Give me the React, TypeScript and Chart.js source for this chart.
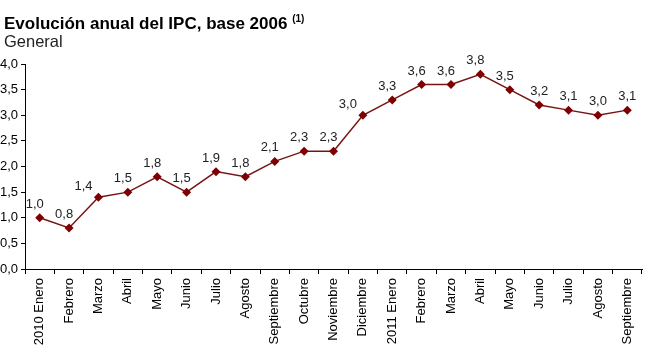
import React, { useEffect, useRef } from "react";
import { Chart, registerables } from "chart.js";

Chart.register(...registerables);

const categories: string[] = [
  "2010 Enero", "Febrero", "Marzo", "Abril", "Mayo", "Junio", "Julio", "Agosto",
  "Septiembre", "Octubre", "Noviembre", "Diciembre", "2011 Enero", "Febrero",
  "Marzo", "Abril", "Mayo", "Junio", "Julio", "Agosto", "Septiembre",
];
const ipcValues: number[] = [
  1.0, 0.8, 1.4, 1.5, 1.8, 1.5, 1.9, 1.8, 2.1, 2.3, 2.3, 3.0, 3.3, 3.6, 3.6, 3.8,
  3.5, 3.2, 3.1, 3.0, 3.1,
];
const yMin = 0;
const yMax = 4;
const yStep = 0.5;

const FONT = "'Liberation Sans', Arial, sans-serif";
const fmt = (v: number) => v.toFixed(1).replace(".", ",");

const labelPlugin = {
  id: "pointLabels",
  afterDatasetsDraw(chart: any) {
    const ctx = chart.ctx;
    const meta = chart.getDatasetMeta(0);
    ctx.save();
    ctx.font = `13px ${FONT}`;
    ctx.fillStyle = "#222";
    ctx.textAlign = "center";
    ctx.textBaseline = "alphabetic";
    meta.data.forEach((pt: any, i: number) => {
      const rise = i > 0 ? ipcValues[i] - ipcValues[i - 1] : 0;
      const steep = rise >= 0.4;
      const dx = steep ? -15 : i >= 17 ? 0 : -5;
      const dy = steep ? -7 : -10;
      ctx.fillText(fmt(ipcValues[i]), pt.x + dx, pt.y + dy);
    });
    ctx.restore();
  },
};

export default function App() {
  const ref = useRef<HTMLCanvasElement>(null);
  useEffect(() => {
    if (!ref.current) return;
    const chart = new Chart(ref.current, {
      type: "line",
      data: {
        labels: categories,
        datasets: [
          {
            data: ipcValues,
            borderColor: "#7a1414",
            backgroundColor: "#7f0000",
            borderWidth: 1.5,
            pointStyle: "rectRot",
            pointRadius: 4.5,
            pointBorderWidth: 0,
            pointBackgroundColor: "#7f0000",
            tension: 0,
          },
        ],
      },
      options: {
        animation: false,
        responsive: false,
        maintainAspectRatio: false,
        layout: { padding: { top: 64, right: 28, left: 0, bottom: 0 } },
        plugins: {
          legend: { display: false },
          tooltip: { enabled: false },
          title: { display: false },
        },
        scales: {
          x: {
            offset: true,
            grid: {
              offset: true,
              drawOnChartArea: false,
              drawTicks: true,
              tickLength: 5,
              color: "#000",
            },
            border: { display: true, color: "#000", width: 1 },
            ticks: {
              autoSkip: false,
              maxRotation: 90,
              minRotation: 90,
              color: "#000",
              padding: 4,
              font: { family: FONT, size: 13 },
            },
            afterFit(scale: any) {
              scale.height = 362 - 269;
            },
          },
          y: {
            min: yMin,
            max: yMax,
            grid: {
              drawOnChartArea: false,
              drawTicks: true,
              tickLength: 4,
              color: "#000",
            },
            border: { display: true, color: "#000", width: 1 },
            ticks: {
              stepSize: yStep,
              color: "#000",
              padding: 3,
              font: { family: FONT, size: 13 },
              callback: (v: any) => fmt(Number(v)),
            },
            afterFit(scale: any) {
              scale.width = 25;
            },
          },
        },
      },
      plugins: [labelPlugin],
    });
    return () => chart.destroy();
  }, []);

  return (
    <div
      style={{
        position: "absolute",
        left: 0,
        top: 0,
        width: 670,
        height: 362,
        background: "#fff",
        fontFamily: FONT,
        overflow: "hidden",
      }}
    >
      <canvas
        ref={ref}
        width={670}
        height={362}
        style={{ position: "absolute", left: 0, top: 0 }}
      />
      <div
        style={{
          position: "absolute",
          left: 4,
          top: 9,
          fontSize: 17,
          fontWeight: "bold",
          color: "#000",
          whiteSpace: "nowrap",
          lineHeight: "20px",
        }}
      >
        Evolución anual del IPC, base 2006{" "}
        <sup style={{ fontSize: 10, verticalAlign: "7px" }}>(1)</sup>
      </div>
      <div
        style={{
          position: "absolute",
          left: 4,
          top: 32,
          fontSize: 16.5,
          color: "#222",
          whiteSpace: "nowrap",
          lineHeight: "19px",
        }}
      >
        General
      </div>
    </div>
  );
}
